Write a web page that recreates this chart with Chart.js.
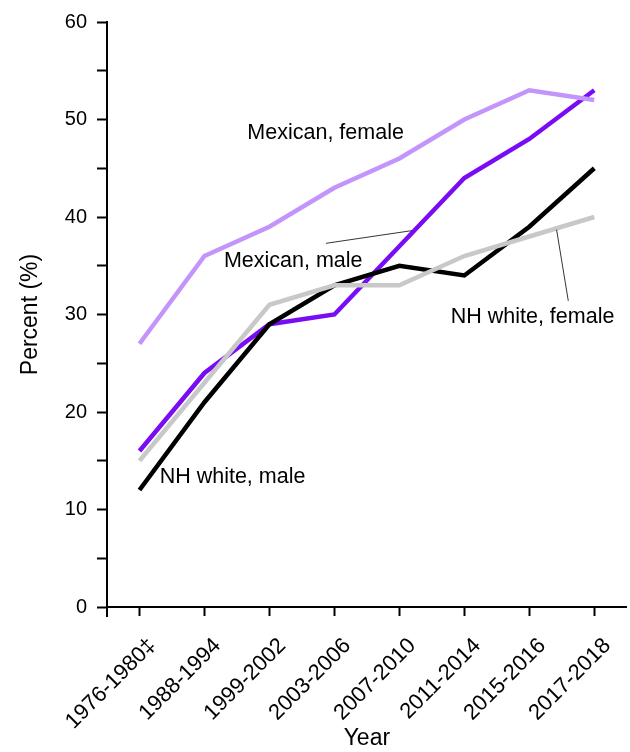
<!DOCTYPE html>
<html>
<head>
<meta charset="utf-8">
<script src="https://cdn.jsdelivr.net/npm/chart.js@4"></script>
<style>
  body { margin: 0; background: #fff; }
  #wrap { width: 630px; height: 752px; }
</style>
</head>
<body>
<div id="wrap"><canvas id="lineChart1" width="630" height="752"></canvas></div>
<script>
// Survey periods (x-axis)
const periods = ['1976-1980\u2021', '1988-1994', '1999-2002', '2003-2006', '2007-2010', '2011-2014', '2015-2016', '2017-2018'];

// Percent values per group
const mexicanFemale = [27, 36, 39, 43, 46, 50, 53, 52];
const mexicanMale   = [16, 24, 29, 30, 37, 44, 48, 53];
const whiteMale     = [12, 21, 29, 33, 35, 34, 39, 45];
const whiteFemale   = [15, 23, 31, 33, 33, 36, 38, 40];

// y-axis ticks
const yTicks = [0, 10, 20, 30, 40, 50, 60];

// Text labels placed in data units: [label, x index, y value]
const labelNames  = ['Mexican, female', 'Mexican, male', 'NH white, female', 'NH white, male'];
const labelX      = [1.66, 1.30, 4.79, 0.31];
const labelY      = [48.6, 35.5, 29.7, 13.3];
// leader lines: [x1, y1, x2, y2] in data units
const leaderLines = [[2.87, 37.3, 4.19, 38.6], [6.42, 38.7, 6.60, 31.4]];

const FONT = '"Liberation Sans", Arial, sans-serif';

const labelPlugin = {
  id: 'labels',
  afterDatasetsDraw(chart) {
    const ctx = chart.ctx;
    const xs = chart.scales.x, ys = chart.scales.y;
    ctx.save();
    ctx.font = '21.5px ' + FONT;
    ctx.fillStyle = '#000';
    ctx.textAlign = 'left';
    ctx.textBaseline = 'middle';
    labelNames.forEach((t, i) => {
      ctx.fillText(t, xs.getPixelForValue(labelX[i]), ys.getPixelForValue(labelY[i]));
    });
    ctx.strokeStyle = '#000';
    ctx.lineWidth = 0.8;
    leaderLines.forEach(l => {
      ctx.beginPath();
      ctx.moveTo(xs.getPixelForValue(l[0]), ys.getPixelForValue(l[1]));
      ctx.lineTo(xs.getPixelForValue(l[2]), ys.getPixelForValue(l[3]));
      ctx.stroke();
    });
    // y axis line runs a bit below the x axis
    ctx.lineWidth = 2;
    ctx.beginPath();
    ctx.moveTo(xs.left, ys.bottom);
    ctx.lineTo(xs.left, ys.bottom + 10);
    ctx.stroke();
    ctx.restore();
  }
};

function ds(data, color) {
  return {
    data: data,
    borderColor: color,
    backgroundColor: color,
    borderWidth: 4.5,
    pointRadius: 0,
    tension: 0,
    fill: false
  };
}

new Chart(document.getElementById('lineChart1'), {
  type: 'line',
  data: {
    labels: periods,
    datasets: [
      ds(mexicanFemale, '#c394fa'),
      ds(whiteFemale, '#c8c8c8'),
      ds(whiteMale, '#000000'),
      ds(mexicanMale, '#7a0cf5')
    ]
  },
  plugins: [labelPlugin],
  options: {
    responsive: false,
    animation: false,
    layout: { padding: { top: 19, right: 1, left: 17, bottom: 0 } },
    plugins: { legend: { display: false }, tooltip: { enabled: false } },
    scales: {
      x: {
        offset: true,
        afterFit(scale) { scale.height = 145; },
        grid: { offset: false, drawOnChartArea: false, color: '#000', tickLength: 9, tickWidth: 2 },
        border: { color: '#000', width: 2 },
        ticks: {
          color: '#000',
          font: { family: FONT, size: 22 },
          minRotation: 45, maxRotation: 45, padding: 17, labelOffset: 13
        },
        title: {
          display: true, text: 'Year', color: '#000',
          font: { family: FONT, size: 23 },
          padding: { top: 0, bottom: 0 }
        }
      },
      y: {
        min: 0, max: 60,
        afterFit(scale) { scale.width = 90; },
        grid: { drawOnChartArea: false, color: '#000', tickLength: 10, tickWidth: 2 },
        border: { color: '#000', width: 2 },
        ticks: {
          stepSize: 5,
          color: '#000',
          font: { family: FONT, size: 20 },
          padding: 10,
          callback: v => yTicks.includes(v) ? v : ''
        },
        title: {
          display: true, text: 'Percent (%)', color: '#000',
          font: { family: FONT, size: 23 },
          padding: { top: 0, bottom: 0 }
        }
      }
    }
  }
});
</script>
</body>
</html>
